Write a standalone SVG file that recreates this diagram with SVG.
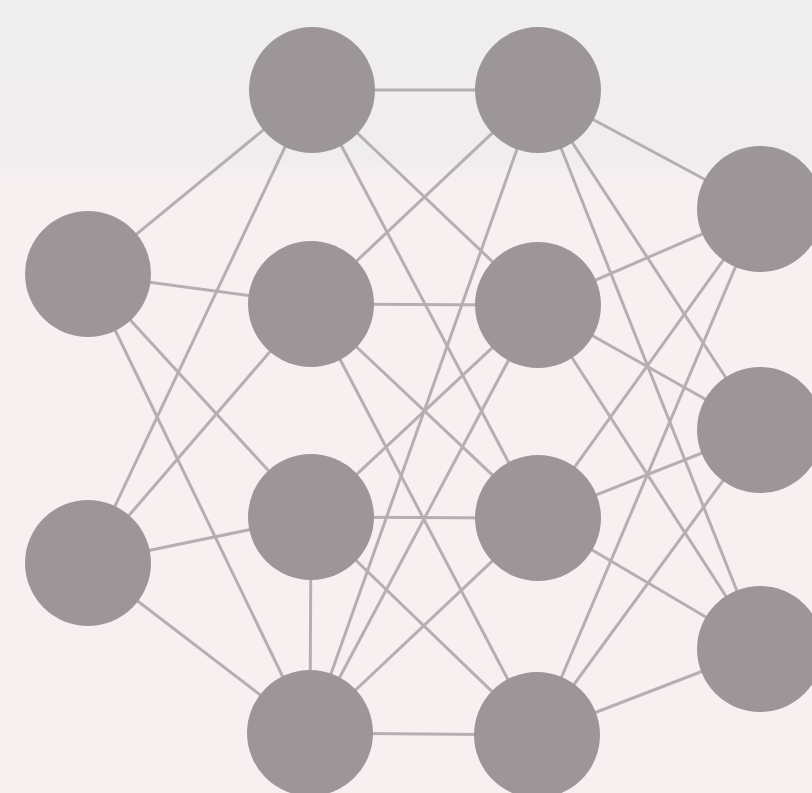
<svg xmlns="http://www.w3.org/2000/svg" width="812" height="793" viewBox="0 0 812 793">
<defs>
<linearGradient id="bg" x1="0" y1="0" x2="0" y2="1">
<stop offset="0" stop-color="#efeeee"/>
<stop offset="0.2" stop-color="#f0edee"/>
<stop offset="0.23" stop-color="#f8eff1"/>
<stop offset="1" stop-color="#f8eff1"/>
</linearGradient>
</defs>
<style>
.n{fill:#9d9698}
.e line{stroke:#b6afb1;stroke-width:3;stroke-linecap:round}
</style>
<rect width="812" height="793" fill="url(#bg)"/>
<g class="e" id="connectors">
<line x1="88" y1="274" x2="312" y2="90"/>
<line x1="88" y1="274" x2="311" y2="304"/>
<line x1="88" y1="274" x2="311" y2="517"/>
<line x1="88" y1="274" x2="310" y2="733"/>
<line x1="88" y1="563" x2="312" y2="90"/>
<line x1="88" y1="563" x2="311" y2="304"/>
<line x1="88" y1="563" x2="311" y2="517"/>
<line x1="88" y1="563" x2="310" y2="733"/>
<line x1="311" y1="517" x2="310" y2="733"/>
<line x1="312" y1="90" x2="538" y2="90"/>
<line x1="312" y1="90" x2="538" y2="305"/>
<line x1="312" y1="90" x2="538" y2="518"/>
<line x1="311" y1="304" x2="538" y2="90"/>
<line x1="311" y1="304" x2="538" y2="305"/>
<line x1="311" y1="304" x2="538" y2="518"/>
<line x1="311" y1="304" x2="537" y2="735"/>
<line x1="311" y1="517" x2="538" y2="305"/>
<line x1="311" y1="517" x2="538" y2="518"/>
<line x1="311" y1="517" x2="537" y2="735"/>
<line x1="310" y1="733" x2="538" y2="90"/>
<line x1="310" y1="733" x2="538" y2="305"/>
<line x1="310" y1="733" x2="538" y2="518"/>
<line x1="310" y1="733" x2="537" y2="735"/>
<line x1="538" y1="90" x2="760" y2="209"/>
<line x1="538" y1="90" x2="760" y2="430"/>
<line x1="538" y1="90" x2="760" y2="649"/>
<line x1="538" y1="305" x2="760" y2="209"/>
<line x1="538" y1="305" x2="760" y2="430"/>
<line x1="538" y1="305" x2="760" y2="649"/>
<line x1="538" y1="518" x2="760" y2="209"/>
<line x1="538" y1="518" x2="760" y2="430"/>
<line x1="538" y1="518" x2="760" y2="649"/>
<line x1="537" y1="735" x2="760" y2="209"/>
<line x1="537" y1="735" x2="760" y2="430"/>
<line x1="537" y1="735" x2="760" y2="649"/>
</g>
<g id="a1"><circle class="n" cx="88" cy="274" r="63"/></g>
<g id="a2"><circle class="n" cx="88" cy="563" r="63"/></g>
<g id="b1"><circle class="n" cx="312" cy="90" r="63"/></g>
<g id="b2"><circle class="n" cx="311" cy="304" r="63"/></g>
<g id="b3"><circle class="n" cx="311" cy="517" r="63"/></g>
<g id="b4"><circle class="n" cx="310" cy="733" r="63"/></g>
<g id="c1"><circle class="n" cx="538" cy="90" r="63"/></g>
<g id="c2"><circle class="n" cx="538" cy="305" r="63"/></g>
<g id="c3"><circle class="n" cx="538" cy="518" r="63"/></g>
<g id="c4"><circle class="n" cx="537" cy="735" r="63"/></g>
<g id="d1"><circle class="n" cx="760" cy="209" r="63"/></g>
<g id="d2"><circle class="n" cx="760" cy="430" r="63"/></g>
<g id="d3"><circle class="n" cx="760" cy="649" r="63"/></g>
</svg>
